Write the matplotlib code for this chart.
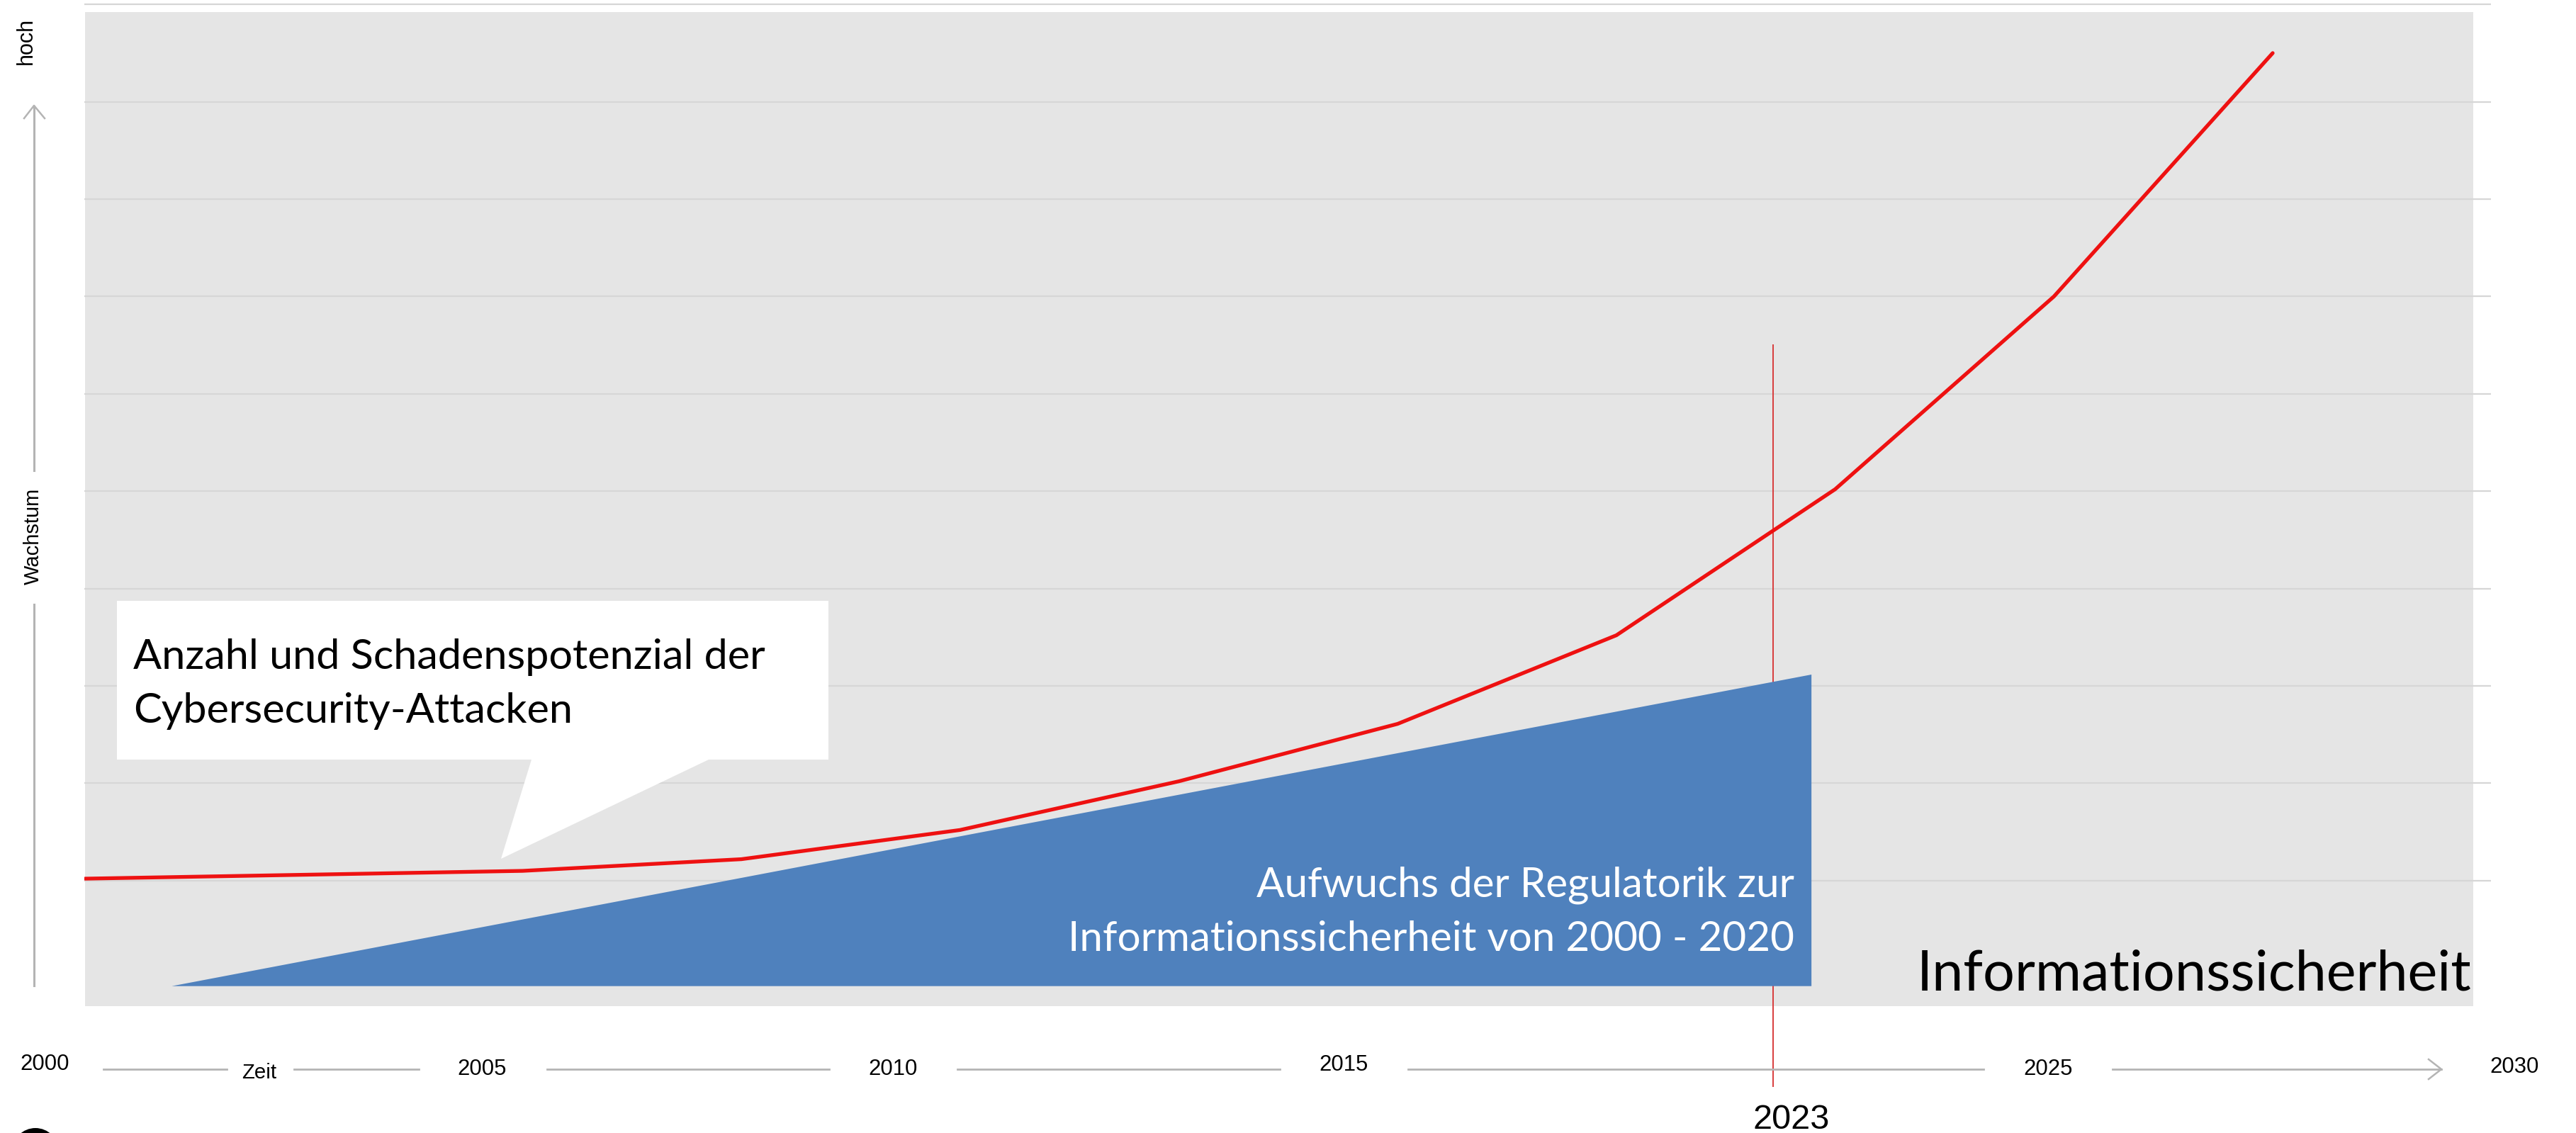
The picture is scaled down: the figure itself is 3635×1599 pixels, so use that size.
import numpy as np
import matplotlib
matplotlib.use("Agg")
import matplotlib.pyplot as plt
from matplotlib.patches import Rectangle, Polygon, Ellipse
from matplotlib.lines import Line2D

# ---- data ------------------------------------------------------------------
# red curve: number / damage potential of attacks, one value per category step
attack_values = [1.02, 1.06, 1.10, 1.22, 1.52, 2.02, 2.61, 3.52, 5.02, 7.00, 9.50]
# blue area: growth of regulation (category units / value units)
reg_x = [0.395, 7.89]
reg_y = [-0.08, 3.12]
# vertical "today" marker
marker_x = 7.716
marker_y = [-1.11, 6.50]

time_labels = ["2000", "2005", "2010", "2015", "2025", "2030"]
callout_lines = ["Anzahl und Schadenspotenzial der", "Cybersecurity-Attacken"]
reg_lines = ["Aufwuchs der Regulatorik zur", "Informationssicherheit von 2000 - 2020"]

# ---- layout (pixels of the 3635x1599 output) --------------------------------
W, H = 3635, 1599
DPI = 200

def fx(px):
    return px / W

def fy(py):
    return 1 - py / H

GREY_LINE = "#b4b4b4"
CAL = ["Lato", "DejaVu Sans"]
ARIAL = ["Liberation Sans", "DejaVu Sans"]

fig = plt.figure(figsize=(W / DPI, H / DPI), dpi=DPI)

# grey plot background
fig.add_artist(Rectangle((fx(120), fy(1420)), fx(3490) - fx(120), fy(17) - fy(1420),
                         transform=fig.transFigure, facecolor="#e5e5e5",
                         edgecolor="none", zorder=-1))

ax = fig.add_axes([fx(119), fy(1391), fx(3515) - fx(119), 1391 / H])
ax.patch.set_visible(False)
ax.set_xlim((119 - 120) / 308.7, (3515 - 120) / 308.7)
ax.set_ylim((1380.2 - 1391) / 137.4, 1380.2 / 137.4)
ax.set_yticks(range(1, 11))
ax.set_xticks([])
ax.grid(axis="y", color="#d6d6d6", lw=0.8)
ax.set_axisbelow(True)
ax.tick_params(left=False, bottom=False, labelleft=False, labelbottom=False)
for s in ax.spines.values():
    s.set_visible(False)

ax.plot([marker_x, marker_x], marker_y, color="#d83c3c", lw=0.7, clip_on=False, zorder=1)
ax.fill_between(reg_x, reg_y[0], reg_y, color="#4f81bd", lw=0, zorder=2)
ax.plot(np.arange(len(attack_values)), attack_values, color="#ee1111", lw=1.9,
        solid_capstyle="round", zorder=3)

# speech bubble
bubble = [(165, 848), (1169, 848), (1169, 1072), (1000, 1072), (707, 1212),
          (750, 1072), (165, 1072)]
fig.add_artist(Polygon([(fx(x), fy(y)) for x, y in bubble], closed=True,
                       transform=fig.transFigure, facecolor="white",
                       edgecolor="none", zorder=1))
fig.text(fx(188), fy(944), callout_lines[0], family=CAL, fontsize=21.4, va="baseline")
fig.text(fx(188), fy(1020), callout_lines[1], family=CAL, fontsize=21.4, va="baseline")

fig.text(fx(2532), fy(1265), reg_lines[0], family=CAL, fontsize=21, color="white",
         ha="right", va="baseline")
fig.text(fx(2532), fy(1342), reg_lines[1], family=CAL, fontsize=21, color="white",
         ha="right", va="baseline")
fig.text(fx(3488), fy(1397), "Informationssicherheit", family=CAL, fontsize=28.5,
         ha="right", va="baseline")

# left growth arrow
def gline(xs, ys, lw=1.1):
    fig.add_artist(Line2D([fx(x) for x in xs], [fy(y) for y in ys], color=GREY_LINE,
                          lw=lw, transform=fig.transFigure))

gline([48, 48], [1391, 853])
gline([48, 48], [664, 150])
gline([34, 48, 63], [167, 149, 167], lw=0.9)
fig.text(fx(47), fy(757), "Wachstum", family=ARIAL, fontsize=10.5, rotation=90,
         ha="center", va="center")
fig.text(fx(37), fy(58), "hoch", family=ARIAL, fontsize=11, rotation=90,
         ha="center", va="center")

# bottom time line
label_x = [63, 680, 1260, 1896, 2890, 3548]
label_base = [1510, 1517, 1517, 1511, 1517, 1514]
for lab, x, b in zip(time_labels, label_x, label_base):
    fig.text(fx(x), fy(b), lab, family=ARIAL, fontsize=11.2, ha="center", va="baseline")
fig.text(fx(366), fy(1522), "Zeit", family=ARIAL, fontsize=10.6, ha="center", va="baseline")
for x0, x1 in [(146, 320), (415, 591), (772, 1170), (1351, 1806), (1987, 2799), (2981, 3445)]:
    gline([x0, x1], [1509, 1509], lw=1.0)
gline([3427, 3445, 3427], [1495, 1509, 1523], lw=0.9)
fig.text(fx(2528), fy(1593), "2023", family=ARIAL, fontsize=17.5, ha="center", va="baseline")

# cut-off black shape at the bottom edge
fig.add_artist(Ellipse((fx(50), fy(1625)), 66 / W, 66 / H, transform=fig.transFigure,
                       facecolor="black", edgecolor="none"))

fig.savefig("out.png", dpi=DPI)
